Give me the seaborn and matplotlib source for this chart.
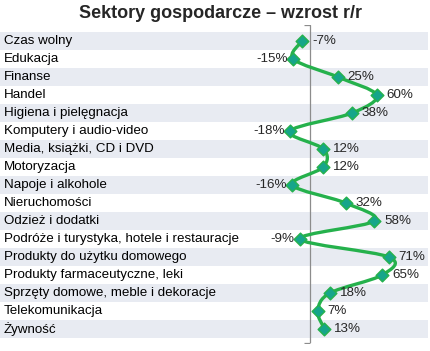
import numpy as np
import pandas as pd
import matplotlib
matplotlib.use('Agg')
import matplotlib.pyplot as plt
import matplotlib.transforms as mtransforms
from matplotlib.path import Path
from matplotlib.patches import PathPatch
from matplotlib import font_manager
import seaborn as sns

##################################################################
categories = ['Czas wolny', 'Edukacja', 'Finanse', 'Handel', 'Higiena i pielęgnacja',
              'Komputery i audio-video', 'Media, książki, CD i DVD', 'Motoryzacja',
              'Napoje i alkohole', 'Nieruchomości', 'Odzież i dodatki',
              'Podróże i turystyka, hotele i restauracje', 'Produkty do użytku domowego',
              'Produkty farmaceutyczne, leki', 'Sprzęty domowe, meble i dekoracje',
              'Telekomunikacja', 'Żywność']
growth = [-7, -15, 25, 60, 38, -18, 12, 12, -16, 32, 58, -9, 71, 65, 18, 7, 13]
# labels put on the left side of the point
left_labels = ['Edukacja', 'Komputery i audio-video', 'Napoje i alkohole',
               'Podróże i turystyka, hotele i restauracje']
title = 'Sektory gospodarcze – wzrost r/r'
##################################################################

df = pd.DataFrame({'Sektor': categories, 'Wzrost': growth})
df['row'] = np.arange(len(df))

sns.set_style('white')
plt.rcParams['font.family'] = ['Liberation Sans', 'DejaVu Sans']

line_green = '#25b14c'
marker_teal = '#16a58a'
band = '#e8ebf2'
fz = 9.6

fig = plt.figure(figsize=(4.31, 3.51), dpi=100)
ax = fig.add_axes([0, 8/351, 428/431, 318/351])

# alternating row bands
for i in range(0, len(df), 2):
    ax.axhspan(i - 0.5, i + 0.5, color=band, lw=0, zorder=0)

# zero axis with small end ticks
ax.axvline(0, color='#8c8c8c', lw=0.9, zorder=1)
y_top, y_bot = -0.889, 16.778
ax.plot([0, 0], [y_top + 0.02, y_bot - 0.02], ls='none', marker=0, ms=4,
        mew=0.9, color='#8c8c8c', zorder=1)

# smoothed line (Excel-like bezier through the points)
pts = df[['Wzrost', 'row']].to_numpy(float)
ext = np.vstack([pts[0], pts, pts[-1]])
verts, codes = [pts[0]], [Path.MOVETO]
for i in range(len(pts) - 1):
    p0, p1, p2, p3 = ext[i], ext[i + 1], ext[i + 2], ext[i + 3]
    verts += [p1 + (p2 - p0) / 6, p2 - (p3 - p1) / 6, p2]
    codes += [Path.CURVE4] * 3
ax.add_patch(PathPatch(Path(verts, codes), fill=False, edgecolor=line_green,
                       lw=2.4, capstyle='round', joinstyle='round', zorder=2))

sns.scatterplot(data=df, x='Wzrost', y='row', marker='D', s=42, color=marker_teal,
                edgecolor=line_green, linewidth=1.0, zorder=3, ax=ax, legend=False)

# category names on the left, value labels next to points
blend = mtransforms.blended_transform_factory(ax.transAxes, ax.transData)
for _, r in df.iterrows():
    ax.text(4/428, r['row'], r['Sektor'], transform=blend, ha='left', va='center',
            fontsize=fz, color='black')
    if r['Sektor'] in left_labels:
        ax.annotate('%d%%' % r['Wzrost'], (r['Wzrost'], r['row']), xytext=(-4, 0),
                    textcoords='offset points', ha='right', va='center', fontsize=fz)
    else:
        ax.annotate('%d%%' % r['Wzrost'], (r['Wzrost'], r['row']), xytext=(7, 0),
                    textcoords='offset points', ha='left', va='center', fontsize=fz)

ax.set_xlim(-279.3, 106.3)
ax.set_ylim(y_bot, y_top)
ax.set_xticks([])
ax.set_yticks([])
ax.set_xlabel('')
ax.set_ylabel('')
for s in ax.spines.values():
    s.set_visible(False)
ax.patch.set_alpha(0)

# title in a narrow face if available
names = {f.name for f in font_manager.fontManager.ttflist}
if 'Liberation Sans Narrow' in names:
    fig.text(221/431, 1 - 14/351, title, ha='center', va='center', fontsize=15.5,
             fontweight='bold', family=['Liberation Sans Narrow', 'DejaVu Sans'])
else:
    fig.text(221/431, 1 - 14/351, title, ha='center', va='center', fontsize=13,
             fontweight='bold')

plt.savefig('out.png', dpi=100)
